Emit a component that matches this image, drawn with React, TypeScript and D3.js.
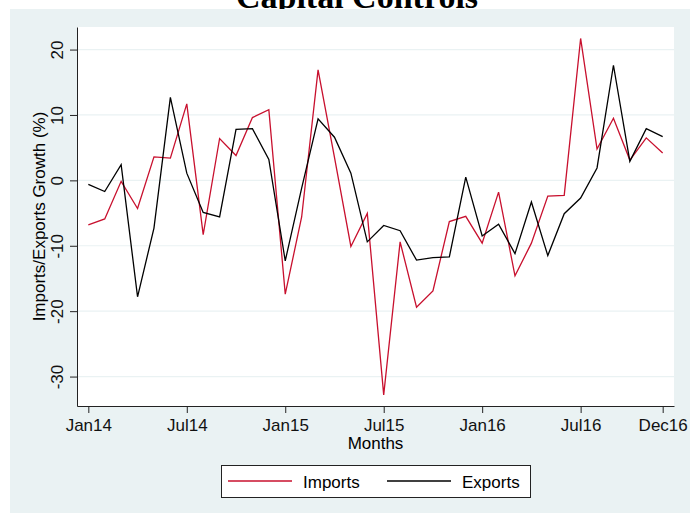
import React, { useEffect, useRef } from "react";
import * as d3 from "d3";

// monthly growth rates, Jan 2014 .. Dec 2016
const months = d3.range(36);
const imports = [
  -6.8, -5.9, -0.15, -4.3, 3.6, 3.4, 11.7, -8.3, 6.4, 3.8, 9.6, 10.8,
  -17.4, -5.6, 16.9, 3.5, -10.1, -5.05, -32.8, -9.4, -19.4, -16.9, -6.3, -5.5,
  -9.6, -1.8, -14.6, -9.6, -2.4, -2.3, 21.7, 4.8, 9.5, 3.1, 6.5, 4.2,
];
const exports = [
  -0.6, -1.7, 2.4, -17.8, -7.3, 12.7, 1.1, -4.9, -5.6, 7.8, 7.9, 3.2,
  -12.3, -1.2, 9.4, 6.6, 1.1, -9.4, -6.9, -7.7, -12.2, -11.8, -11.7, 0.5,
  -8.5, -6.7, -11.2, -3.3, -11.5, -5.1, -2.7, 1.9, 17.6, 2.9, 7.9, 6.7,
];
const xTickValues = [0, 6, 12, 18, 24, 30, 35];
const xTickLabels = ["Jan14", "Jul14", "Jan15", "Jul15", "Jan16", "Jul16", "Dec16"];
const yTickValues = [-30, -20, -10, 0, 10, 20];

const WIDTH = 690;
const HEIGHT = 513;
const PLOT = { left: 77, right: 674, top: 27, bottom: 406 };
const BG = "#eaf2f3";
const RED = "#c8102e";
const FONT = "'Liberation Sans', Arial, sans-serif";

export default function App() {
  const ref = useRef<SVGSVGElement>(null);

  useEffect(() => {
    const vis = d3.select(ref.current);
    vis.selectAll("*").remove();

    const x = d3.scaleLinear().domain([-0.69, 35.69]).range([PLOT.left, PLOT.right]);
    const y = d3.scaleLinear().domain([-34.5, 23.45]).range([PLOT.bottom, PLOT.top]);

    // title (mostly cropped off the top)
    vis.append("text")
      .attr("x", 357)
      .attr("y", 8)
      .attr("text-anchor", "middle")
      .style("font-family", "'Liberation Serif', 'Times New Roman', serif")
      .style("font-weight", "bold")
      .style("font-size", "34px")
      .text("Capital Controls");

    // outer panel
    vis.append("rect")
      .attr("x", 10).attr("y", 9)
      .attr("width", WIDTH - 10).attr("height", 504)
      .attr("fill", BG);

    // plot region
    vis.append("rect")
      .attr("x", PLOT.left).attr("y", PLOT.top)
      .attr("width", PLOT.right - PLOT.left).attr("height", PLOT.bottom - PLOT.top)
      .attr("fill", "white");

    // grid
    vis.append("g")
      .selectAll("line")
      .data(yTickValues)
      .join("line")
      .attr("x1", PLOT.left).attr("x2", PLOT.right)
      .attr("y1", (d) => y(d)).attr("y2", (d) => y(d))
      .attr("stroke", BG)
      .attr("stroke-width", 1.2);

    // lines
    const lineFunc = d3.line<number>()
      .x((d, i) => x(months[i]))
      .y((d) => y(d));

    vis.append("path")
      .attr("d", lineFunc(imports))
      .attr("stroke", RED)
      .attr("stroke-width", 1.3)
      .attr("fill", "none");
    vis.append("path")
      .attr("d", lineFunc(exports))
      .attr("stroke", "black")
      .attr("stroke-width", 1.3)
      .attr("fill", "none");

    // y axis
    const yAxis = d3.axisLeft(y)
      .tickValues(yTickValues)
      .tickFormat((d) => String(d))
      .tickSizeInner(7)
      .tickSizeOuter(0);
    const gy = vis.append("g")
      .attr("transform", "translate(" + PLOT.left + ",0)")
      .call(yAxis);
    gy.selectAll("text")
      .attr("transform", "rotate(-90)")
      .attr("x", 0)
      .attr("y", -14)
      .attr("dy", 0)
      .attr("text-anchor", "middle");

    // x axis
    const xAxis = d3.axisBottom(x)
      .tickValues(xTickValues)
      .tickFormat((d, i) => xTickLabels[i])
      .tickSizeInner(7)
      .tickSizeOuter(0);
    const gx = vis.append("g")
      .attr("transform", "translate(0," + PLOT.bottom + ")")
      .call(xAxis);
    gx.selectAll("text").attr("y", 25).attr("dy", 0);

    for (const g of [gx, gy]) {
      g.selectAll("text")
        .style("font-family", FONT)
        .style("font-size", "17px")
        .attr("fill", "#111");
      g.selectAll("line").attr("stroke", "#222");
      g.select(".domain").attr("stroke", "#222");
    }

    // axis titles
    vis.append("text")
      .attr("x", (PLOT.left + PLOT.right) / 2)
      .attr("y", 449)
      .attr("text-anchor", "middle")
      .style("font-family", FONT)
      .style("font-size", "17px")
      .text("Months");
    vis.append("text")
      .attr("transform", "translate(45," + (PLOT.top + PLOT.bottom) / 2 + ") rotate(-90)")
      .attr("text-anchor", "middle")
      .style("font-family", FONT)
      .style("font-size", "17px")
      .text("Imports/Exports Growth (%)");

    // legend
    const legend = vis.append("g").attr("class", "legend");
    legend.append("rect")
      .attr("x", 221.5).attr("y", 465.5)
      .attr("width", 309).attr("height", 32)
      .attr("fill", "white")
      .attr("stroke", "#222");
    const items = [
      { name: "Imports", color: RED, x0: 228 },
      { name: "Exports", color: "black", x0: 387 },
    ];
    items.forEach((it) => {
      legend.append("line")
        .attr("x1", it.x0).attr("x2", it.x0 + 64)
        .attr("y1", 481).attr("y2", 481)
        .attr("stroke", it.color)
        .attr("stroke-width", 1.3);
      legend.append("text")
        .attr("x", it.x0 + 75)
        .attr("y", 488)
        .style("font-family", FONT)
        .style("font-size", "17px")
        .text(it.name);
    });
  }, []);

  return (
    <div style={{ position: "absolute", left: 0, top: 0 }}>
      <svg ref={ref} width={WIDTH} height={HEIGHT}></svg>
    </div>
  );
}
